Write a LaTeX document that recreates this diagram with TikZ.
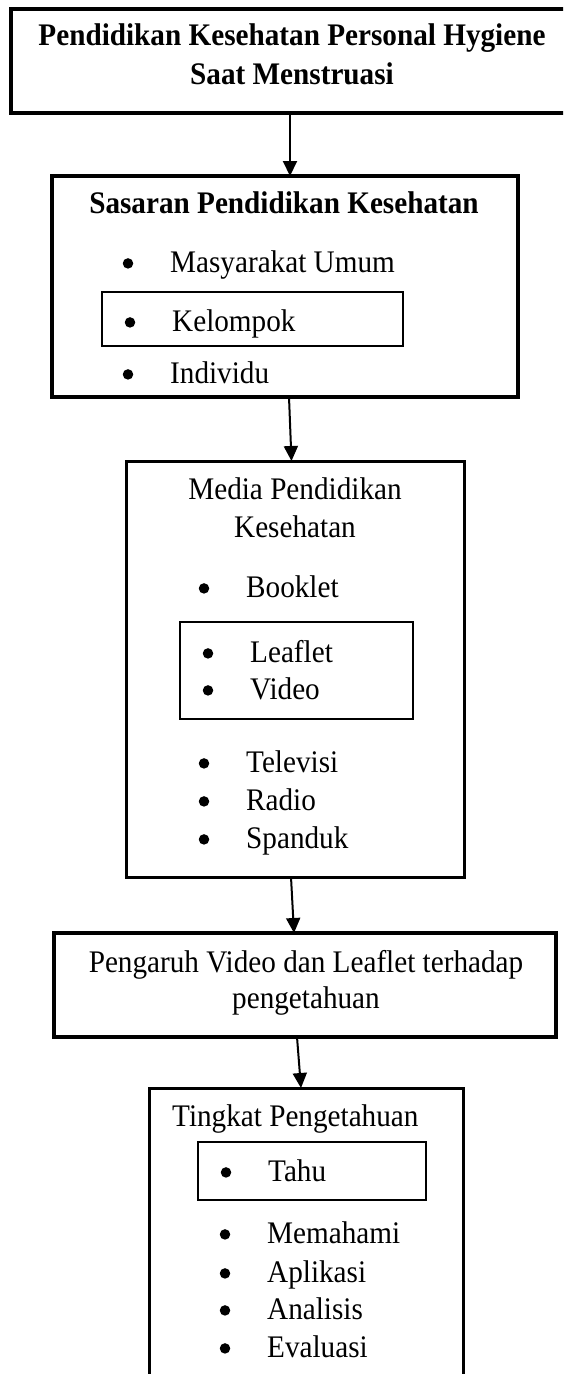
\documentclass[tikz,border=0pt]{standalone}
\usepackage{fontspec}
\setmainfont{Liberation Serif}[FakeStretch=0.93]
\usetikzlibrary{arrows.meta}
\tikzset{
  box/.style={draw, anchor=north west, inner sep=0pt, outer sep=0pt},
  ibox/.style={draw, line width=2.3pt, anchor=north west, inner sep=0pt, outer sep=0pt},
  txt/.style={inner sep=0pt, font=\fontsize{31.4}{38}\selectfont},
  ctxt/.style={txt, anchor=base},
  ltxt/.style={txt, anchor=base west},
  btxt/.style={txt, anchor=base, font=\fontsize{31.4}{38}\selectfont\bfseries},
  bul/.style={circle, fill, inner sep=0pt, minimum size=10.5pt, yshift=8.6pt},
  arr/.style={line width=2pt, -{Triangle[length=15pt,width=14pt]}}
}
\begin{document}
\begin{tikzpicture}[x=1pt,y=-1pt]
\useasboundingbox (0,0) rectangle (563,1374);
\clip (0,0) rectangle (563,1374);
% box 1
\node[box, line width=3.8pt, minimum width=570pt, minimum height=104pt] (b1) at (11,9) {};
\node[btxt] (t1a) at (292,45) {Pendidikan Kesehatan Personal Hygiene};
\node[btxt] (t1b) at (292,84) {Saat Menstruasi};
% box 2
\node[box, line width=3.5pt, minimum width=466pt, minimum height=221pt] (b2) at (52,176) {};
\node[btxt] (t2) at (284,213) {Sasaran Pendidikan Kesehatan};
\node[bul] (p21) at (128,272) {};
\node[ltxt] (i21) at (170,272) {Masyarakat Umum};
\node[ibox, minimum width=301pt, minimum height=54pt] (k2) at (102,292) {};
\node[bul] (p22) at (130,331) {};
\node[ltxt] (i22) at (172,331) {Kelompok};
\node[bul] (p23) at (128,383) {};
\node[ltxt] (i23) at (170,383) {Individu};
% box 3
\node[box, line width=3pt, minimum width=338pt, minimum height=416pt] (b3) at (126,461) {};
\node[ctxt] (t3a) at (295,499) {Media Pendidikan};
\node[ctxt] (t3b) at (295,537) {Kesehatan};
\node[bul] (p31) at (204,597) {};
\node[ltxt] (i31) at (246,597) {Booklet};
\node[ibox, minimum width=233pt, minimum height=97pt] (k3) at (180,622) {};
\node[bul] (p32) at (208,662) {};
\node[ltxt] (i32) at (250,662) {Leaflet};
\node[bul] (p33) at (208,699) {};
\node[ltxt] (i33) at (250,699) {Video};
\node[bul] (p34) at (204,772) {};
\node[ltxt] (i34) at (246,772) {Televisi};
\node[bul] (p35) at (204,810) {};
\node[ltxt] (i35) at (246,810) {Radio};
\node[bul] (p36) at (204,848) {};
\node[ltxt] (i36) at (246,848) {Spanduk};
% box 4
\node[box, line width=3.8pt, minimum width=502pt, minimum height=104pt] (b4) at (54,933) {};
\node[ctxt] (t4a) at (306,972) {Pengaruh Video dan Leaflet terhadap};
\node[ctxt] (t4b) at (306,1008) {pengetahuan};
% box 5
\node[box, line width=3pt, minimum width=314pt, minimum height=320pt] (b5) at (149,1088) {};
\node[ltxt] (t5) at (172,1126) {Tingkat Pengetahuan};
\node[ibox, minimum width=228pt, minimum height=58pt] (k5) at (198,1142) {};
\node[bul] (p51) at (226,1181) {};
\node[ltxt] (i51) at (268,1181) {Tahu};
\node[bul] (p52) at (225,1243) {};
\node[ltxt] (i52) at (267,1243) {Memahami};
\node[bul] (p53) at (225,1282) {};
\node[ltxt] (i53) at (267,1282) {Aplikasi};
\node[bul] (p54) at (225,1319) {};
\node[ltxt] (i54) at (267,1319) {Analisis};
\node[bul] (p55) at (225,1357) {};
\node[ltxt] (i55) at (267,1357) {Evaluasi};
% arrows
\draw[arr] ([xshift=279pt]b1.south west) -- ([xshift=238pt]b2.north west);
\draw[arr] ([xshift=237pt]b2.south west) -- ([xshift=165.5pt]b3.north west);
\draw[arr] ([xshift=165pt]b3.south west) -- ([xshift=240pt]b4.north west);
\draw[arr] ([xshift=243pt]b4.south west) -- ([xshift=152pt]b5.north west);
\end{tikzpicture}
\end{document}
